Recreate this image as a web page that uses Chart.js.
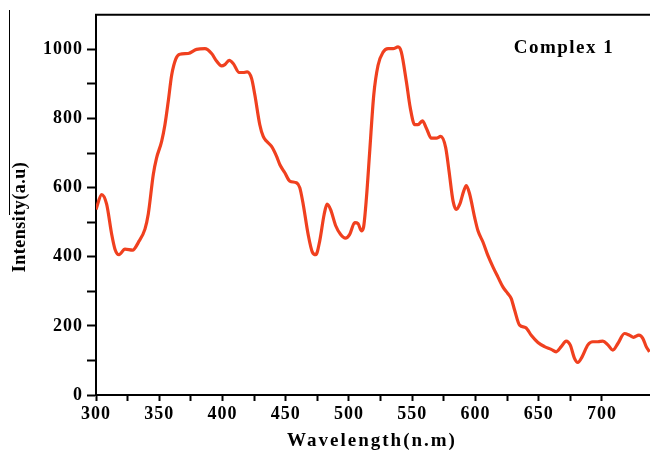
<!DOCTYPE html>
<html>
<head>
<meta charset="utf-8">
<script src="https://cdn.jsdelivr.net/npm/chart.js@4/dist/chart.umd.min.js"></script>
<style>
  html, body { margin: 0; padding: 0; background: #fff; }
  #wrap { width: 650px; height: 455px; position: relative; }
</style>
</head>
<body>
<div id="wrap"><canvas id="c" width="650" height="455"></canvas></div>
<script>
const wavelengths = [300,304.5,308.4,312.4,315,318.2,322.9,329,333.4,338.7,341.3,345.3,347.9,351.9,354.5,357.1,359.8,363.2,366.3,372.9,379.5,386.1,391.4,395.3,399.3,401.9,405.3,408.5,413.2,416.4,419.5,423,425.6,429.5,432.2,434.9,438.8,442.7,445.3,449.3,453.2,458.5,461.1,463.8,467.7,471.1,473.8,476.9,480.4,482.7,485.4,489.6,493.3,497.2,500.6,504.6,507.2,509.8,511.5,513.8,516.4,519.6,523,527,530.9,534.9,538.8,541.4,545.4,548.5,552,554.6,558,561.2,565.1,569.1,572.5,576.5,579.1,582.3,584.9,587.6,590.7,592.8,595.5,599.4,602,606,609.9,613.9,617.8,621.8,625.7,628.3,631,634.9,639.7,644.1,649.4,654.6,659.9,663.8,667.8,671.7,674.9,678.3,680.9,684.4,688.9,692.8,696.8,700.7,704.7,708.6,712.6,717.8,721.8,725,729.2,732.3,735,737.6];
const intensity = [537,580,552,465,422,406,422,419,441,480,523,638,686,734,782,849,925,973,986,988,1000,1002,988,966,952,956,968,959,933,933,935,916,868,782,748,734,719,691,667,643,619,614,600,552,465,413,406,446,523,552,537,489,465,454,465,499,496,475,485,570,705,868,954,992,1002,1002,1007,992,906,830,782,782,793,772,743,743,748,715,648,561,537,552,590,606,580,513,475,442,403,370,341,312,293,279,245,202,195,173,152,140,132,125,140,156,145,106,94,111,145,154,154,156,145,130,149,178,173,167,173,164,140,125];
const xTickLabels = ['300','350','400','450','500','550','600','650','700'];
const yTickLabels = ['0','200','400','600','800','1000'];
const seriesLabel = 'Complex 1';
const xTitle = 'Wavelength(n.m)';
const yTitle = 'Intensity(a.u)';

const points = wavelengths.map((w, i) => ({ x: w, y: intensity[i] }));
const FONT = '"Liberation Serif", "Times New Roman", serif';

const decor = {
  id: 'decor',
  beforeDraw(chart) {
    chart.ctx.letterSpacing = '1px';
  },
  afterDraw(chart) {
    const { ctx, chartArea } = chart;
    ctx.save();
    ctx.strokeStyle = '#000';
    ctx.lineWidth = 2;
    ctx.beginPath();
    ctx.moveTo(chartArea.left - 1, chartArea.top);
    ctx.lineTo(chartArea.right, chartArea.top);
    ctx.stroke();
    ctx.lineWidth = 1;
    ctx.beginPath();
    ctx.moveTo(9.5, 10);
    ctx.lineTo(9.5, 215);
    ctx.stroke();
    ctx.fillStyle = '#000';
    ctx.textAlign = 'center';
    ctx.textBaseline = 'middle';
    // series label
    ctx.letterSpacing = '1.5px';
    ctx.font = 'bold 19px ' + FONT;
    ctx.fillText(seriesLabel, 564, 48);
    // x axis title
    ctx.letterSpacing = '2px';
    ctx.font = 'bold 19px ' + FONT;
    ctx.fillText(xTitle, 372, 441);
    // y axis title
    ctx.letterSpacing = '0.5px';
    ctx.font = 'bold 18px ' + FONT;
    ctx.translate(20, 217);
    ctx.rotate(-Math.PI / 2);
    ctx.fillText(yTitle, 0, 0);
    ctx.restore();
  }
};

new Chart(document.getElementById('c'), {
  type: 'line',
  data: {
    datasets: [{
      label: seriesLabel,
      data: points,
      borderColor: '#f0401f',
      borderWidth: 3.2,
      pointRadius: 0,
      fill: false,
      cubicInterpolationMode: 'monotone',
      tension: 0.4
    }]
  },
  options: {
    responsive: false,
    animation: false,
    layout: { padding: { top: 13, right: 0, left: 0, bottom: 0 } },
    plugins: { legend: { display: false }, tooltip: { enabled: false } },
    scales: {
      x: {
        type: 'linear',
        min: 300,
        max: 738,
        afterFit(s) { s.height = 60; },
        afterBuildTicks(s) { s.ticks = s.ticks.filter(t => t.value % 25 === 0); },
        border: { display: true, color: '#000', width: 2 },
        grid: { drawOnChartArea: false, drawTicks: true, tickLength: 6, tickColor: '#000', tickWidth: 2, color: '#000' },
        ticks: {
          stepSize: 25,
          autoSkip: false,
          maxRotation: 0,
          padding: 3,
          color: '#000',
          font: { family: FONT, size: 18, weight: 'bold' },
          callback(v) { const s = String(v); return xTickLabels.includes(s) ? s : ''; }
        },
        title: { display: false, text: xTitle }
      },
      y: {
        min: 0,
        max: 1100,
        afterFit(s) { s.width = 96; },
        afterBuildTicks(s) { s.ticks = s.ticks.filter(t => t.value % 100 === 0 && t.value <= 1000); },
        border: { display: true, color: '#000', width: 2 },
        grid: { drawOnChartArea: false, drawTicks: true, tickLength: 9, tickColor: '#000', tickWidth: 2, color: '#000' },
        ticks: {
          stepSize: 100,
          autoSkip: false,
          padding: 4,
          color: '#000',
          font: { family: FONT, size: 18, weight: 'bold' },
          callback(v) { const s = String(v); return yTickLabels.includes(s) ? s : ''; }
        },
        title: { display: false, text: yTitle }
      }
    }
  },
  plugins: [decor]
});
</script>
</body>
</html>
